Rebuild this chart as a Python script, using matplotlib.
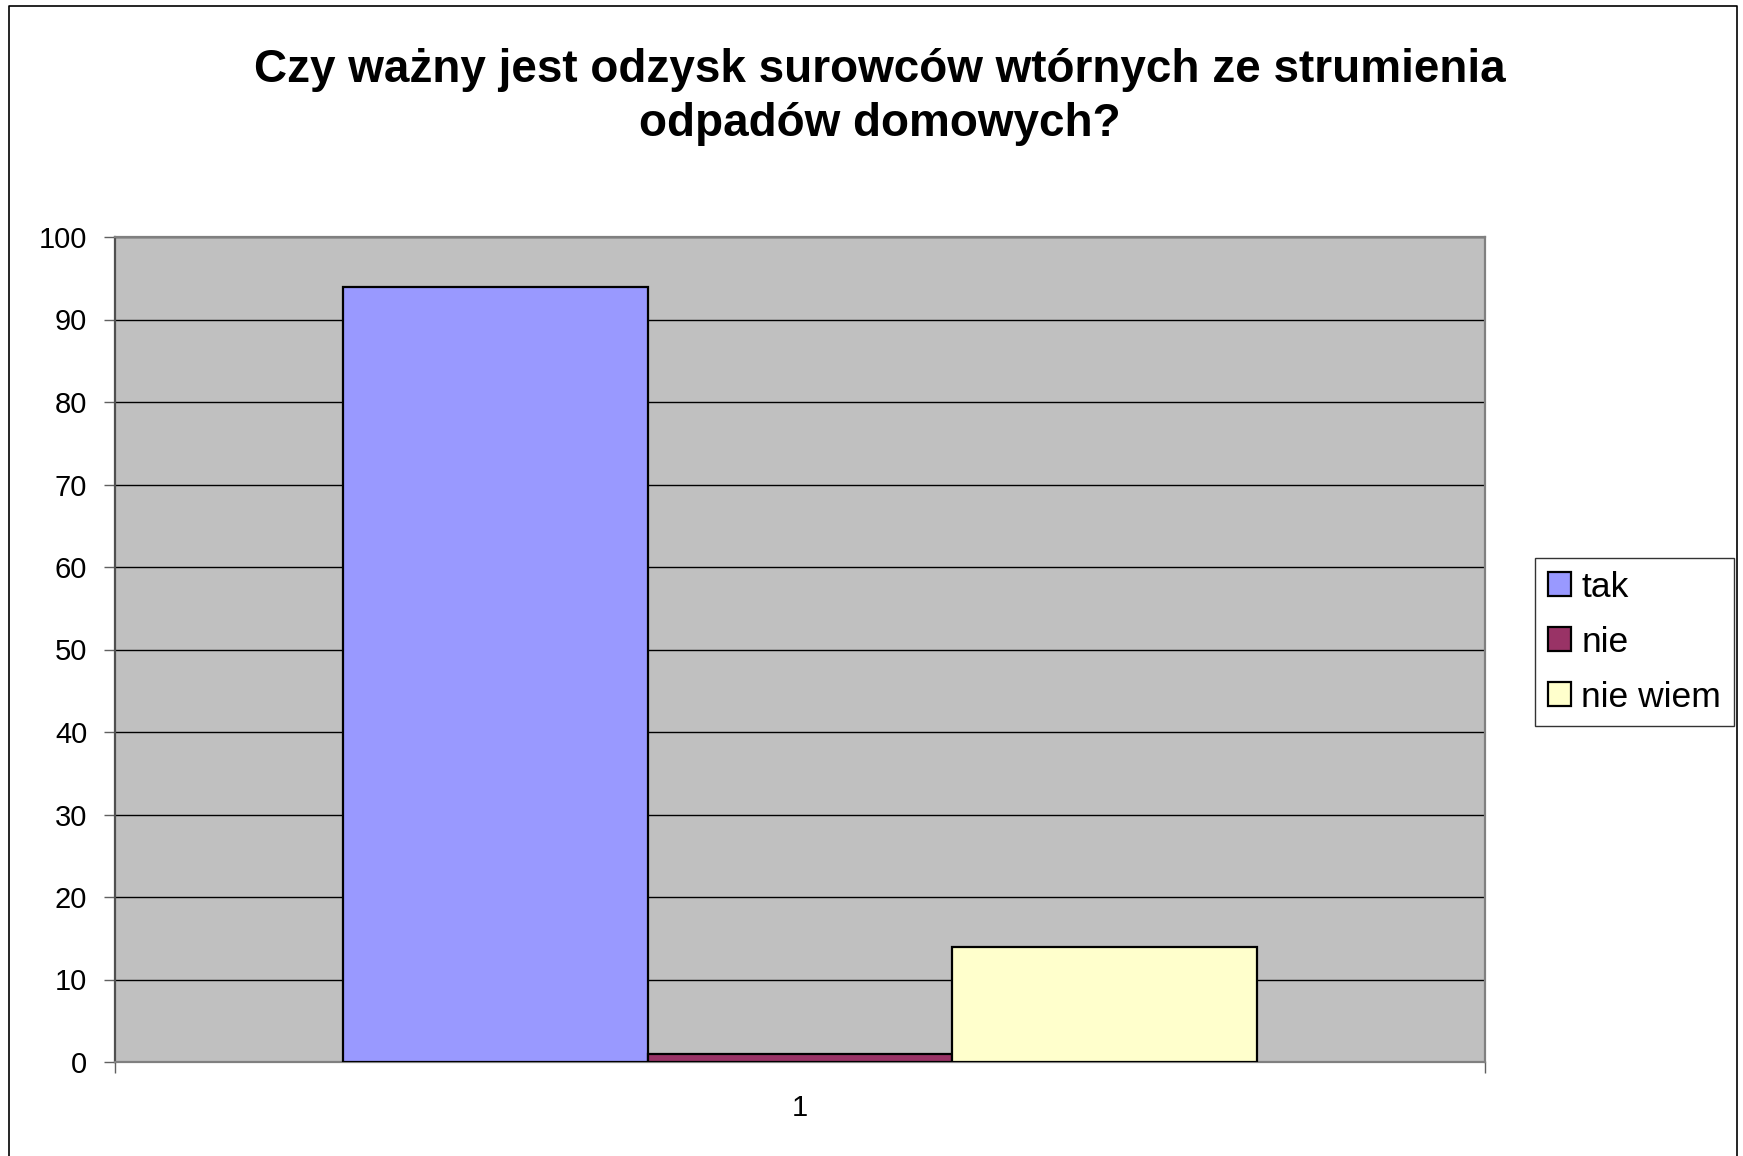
import matplotlib
matplotlib.use("Agg")
import matplotlib.pyplot as plt
from matplotlib.lines import Line2D

# ---- DATA ----
TITLE = "Czy ważny jest odzysk surowców wtórnych ze strumienia\nodpadów domowych?"
CATEGORIES = ["1"]
SERIES = ["tak", "nie", "nie wiem"]
VALUES = [94, 1, 14]
COLORS = ["#9999FF", "#993366", "#FFFFCC"]
YTICKS = [0, 10, 20, 30, 40, 50, 60, 70, 80, 90, 100]

plt.rcParams["font.family"] = ["Liberation Sans", "DejaVu Sans"]

W, H = 1743, 1156
fig = plt.figure(figsize=(W / 100, H / 100), dpi=100)
fig.patch.set_facecolor("white")

ax = fig.add_axes([115 / W, 1 - 1062 / H, (1485 - 115) / W, (1062 - 237) / H])
ax.set_facecolor("#C0C0C0")

# excel style: gap width 150% -> group of 3 bars takes 3/4.5 of the category
bar_w = 1 / 4.5
for i, (name, val, col) in enumerate(zip(SERIES, VALUES, COLORS)):
    ax.bar(1 + (i - 1) * bar_w, val, width=bar_w, color=col, edgecolor="black",
           linewidth=1.6, label=name, zorder=3)

ax.set_xlim(0.5, 1.5)
ax.set_ylim(0, 100)
ax.set_yticks(YTICKS)
ax.yaxis.grid(True, color="black", linewidth=1.0, zorder=1)
ax.set_axisbelow(True)

ax.set_xticks([1])
ax.set_xticklabels(CATEGORIES)
ax.set_xticks([0.5, 1.5], minor=True)
ax.tick_params(axis="x", which="major", length=0, pad=23, labelsize=21)
ax.tick_params(axis="x", which="minor", length=8, width=1.0, color="#606060", direction="out")
ax.tick_params(axis="y", length=8, width=1.0, color="#606060", pad=12, labelsize=21)

for side in ["left", "right", "top", "bottom"]:
    ax.spines[side].set_color("#808080")
    ax.spines[side].set_linewidth(1.6)
ax.spines["left"].set_color("#505050")

leg = ax.legend(loc="upper left", bbox_to_anchor=(1535 / W, 1 - 558 / H),
                bbox_transform=fig.transFigure, fontsize=25.5, frameon=True,
                fancybox=False, edgecolor="black", handlelength=0.65,
                handleheight=0.65, handletextpad=0.3, labelspacing=0.62,
                borderpad=0.36, borderaxespad=0)
leg.get_frame().set_linewidth(1.0)
for p in leg.get_patches():
    p.set_linewidth(1.6)

fig.text(0.505, 1 - 97 / H, TITLE, ha="center", va="center", fontsize=33,
         fontweight="bold", linespacing=1.3)

# outer chart area border
fig.add_artist(Line2D([9 / W, 9 / W, 1737 / W, 1737 / W],
                      [0, 1 - 6 / H, 1 - 6 / H, 0],
                      transform=fig.transFigure, color="black", linewidth=1.2))

fig.savefig("out.png", dpi=100)
